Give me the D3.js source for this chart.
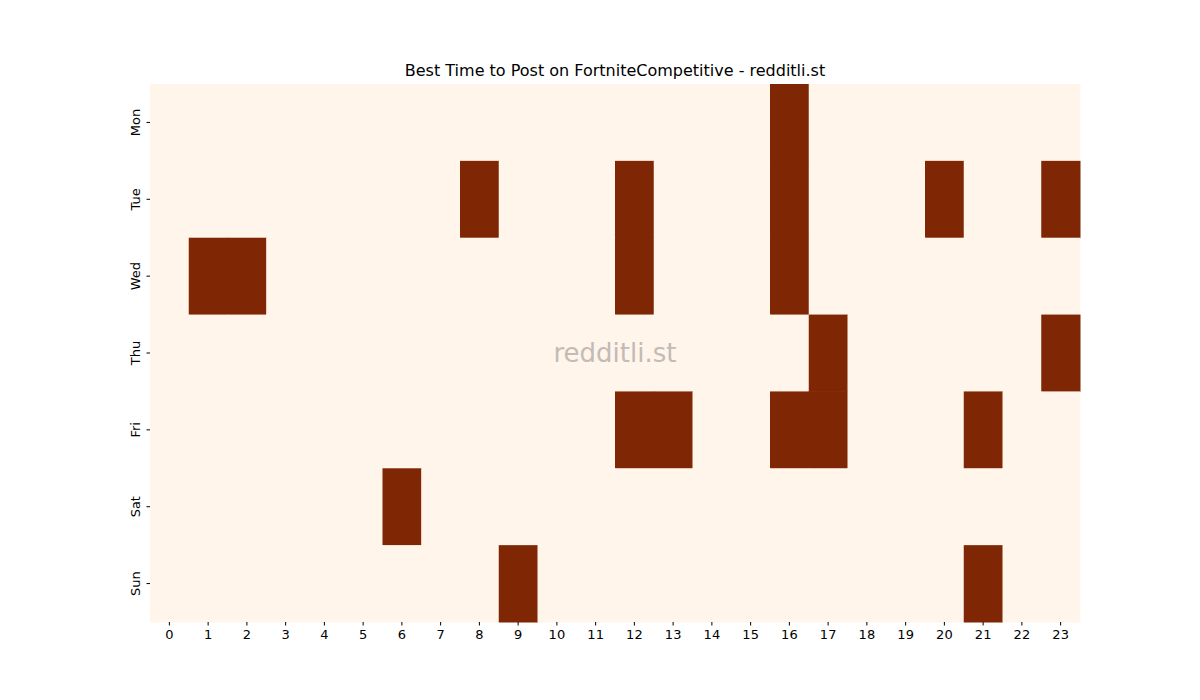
<!DOCTYPE html>
<html>
<head>
<meta charset="utf-8">
<script src="https://cdn.jsdelivr.net/npm/d3@7"></script>
<style>
  body { margin: 0; background: #fff; }
  text { font-family: "DejaVu Sans", sans-serif; }
</style>
</head>
<body>
<svg id="chart" width="1200" height="700"></svg>
<script>
// ── Data ──
const days = ["Mon", "Tue", "Wed", "Thu", "Fri", "Sat", "Sun"];
const hours = d3.range(24);
// hours marked as best per day (cell value 1, others 0)
const monHours = [16];
const tueHours = [8, 12, 16, 20, 23];
const wedHours = [1, 2, 12, 16];
const thuHours = [17, 23];
const friHours = [12, 13, 16, 17, 21];
const satHours = [6];
const sunHours = [9, 21];
const bestHours = [monHours, tueHours, wedHours, thuHours, friHours, satHours, sunHours];

const cells = [];
days.forEach((d, i) => hours.forEach(h => cells.push({ day: d, hour: h, v: bestHours[i].includes(h) ? 1 : 0 })));

// ── Layout ──
const svg = d3.select("#chart");
const plotLeft = 150, plotRight = 1080, plotTop = 84, plotBottom = 622;

const x = d3.scaleBand().domain(hours).range([plotLeft, plotRight]);
const y = d3.scaleBand().domain(days).range([plotTop, plotBottom]);
const color = d3.scaleOrdinal().domain([0, 1]).range(["#fff5eb", "#7f2704"]);

svg.append("g").selectAll("rect")
  .data(cells)
  .join("rect")
  .attr("x", d => x(d.hour))
  .attr("y", d => y(d.day))
  .attr("width", x.bandwidth() + 0.5)
  .attr("height", y.bandwidth() + 0.5)
  .attr("fill", d => color(d.v));

// Axes
const xAxis = svg.append("g")
  .attr("transform", `translate(0,${plotBottom})`)
  .call(d3.axisBottom(x).tickSize(3.5).tickPadding(4));
const yAxis = svg.append("g")
  .attr("transform", `translate(${plotLeft},0)`)
  .call(d3.axisLeft(y).tickSize(3.5).tickPadding(4));

[xAxis, yAxis].forEach(a => {
  a.select(".domain").remove();
  a.selectAll("text").attr("font-size", 13).attr("fill", "#000").style("font-family", "DejaVu Sans, sans-serif");
  a.selectAll("line").attr("stroke", "#000");
});
yAxis.selectAll("text")
  .attr("transform", "rotate(-90)")
  .attr("x", 0).attr("y", -15)
  .attr("dy", "0.35em")
  .attr("text-anchor", "middle");

// Title
svg.append("text")
  .attr("x", (plotLeft + plotRight) / 2).attr("y", 76)
  .attr("text-anchor", "middle")
  .attr("font-size", 16)
  .text("Best Time to Post on FortniteCompetitive - redditli.st");

// Watermark
svg.append("text")
  .attr("x", (plotLeft + plotRight) / 2).attr("y", (plotTop + plotBottom) / 2 + 9)
  .attr("text-anchor", "middle")
  .attr("font-size", 26)
  .attr("fill", "#b0a8a4")
  .attr("opacity", 0.75)
  .text("redditli.st");
</script>
</body>
</html>
